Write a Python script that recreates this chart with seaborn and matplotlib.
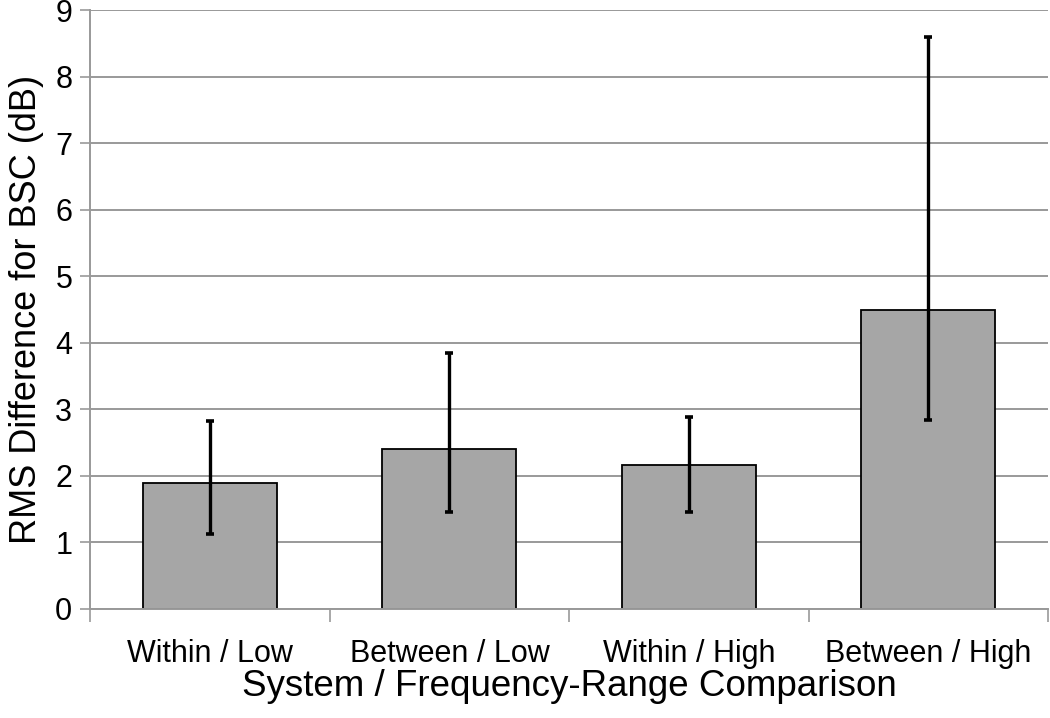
import matplotlib
matplotlib.use("Agg")
import matplotlib.pyplot as plt
import seaborn as sns
import pandas as pd
import numpy as np

# data
comparisons = ["Within / Low", "Between / Low", "Within / High", "Between / High"]
rms_diff = [1.89, 2.40, 2.16, 4.49]
err_low = [1.13, 1.46, 1.46, 2.84]
err_high = [2.82, 3.85, 2.88, 8.59]

sns.set_style("white")
plt.rcParams['font.family'] = ['Liberation Sans', 'DejaVu Sans']
plt.rcParams['text.color'] = 'black'
plt.rcParams['axes.labelcolor'] = 'black'
plt.rcParams['xtick.color'] = 'black'
plt.rcParams['ytick.color'] = 'black'

df = pd.DataFrame({"comparison": comparisons, "rms": rms_diff})

fig = plt.figure(figsize=(10.5, 7.18), dpi=100)
ax = fig.add_axes([0.086, 0.152, 0.912, 0.834])

sns.barplot(data=df, x="comparison", y="rms", color="#a6a6a6", saturation=1,
            width=0.56, edgecolor="black", linewidth=1.3, ax=ax, zorder=2)

# asymmetric error bars
vals = np.array(rms_diff)
yerr = [vals - np.array(err_low), np.array(err_high) - vals]
ax.errorbar(np.arange(len(comparisons)), vals, yerr=yerr, fmt="none",
            ecolor="black", elinewidth=2.4, capsize=2.8, capthick=2.6, zorder=3)

ax.set_xlim(-0.5, 3.5)
ax.set_ylim(0, 9)
ax.set_yticks(range(0, 10))
ax.yaxis.grid(True, color="#999999", linewidth=1.4, zorder=0)
ax.set_axisbelow(True)

for s in ["top", "right"]:
    ax.spines[s].set_visible(False)
for s in ["left", "bottom"]:
    ax.spines[s].set_color("#999999")
    ax.spines[s].set_linewidth(1.4)

# category boundary tick marks on x
ax.set_xticks(np.arange(-0.5, 4, 1), minor=True)
ax.tick_params(axis="x", which="minor", length=9, width=1.2, color="#999999", bottom=True)
ax.tick_params(axis="x", which="major", length=0, pad=22, labelsize=22, labelcolor="black")
ax.tick_params(axis="y", length=7, width=1.2, color="#999999", pad=6, labelsize=22,
               labelcolor="black", left=True)

ax.set_xlabel("System / Frequency-Range Comparison", fontsize=26.5, labelpad=0)
ax.set_ylabel("RMS Difference for BSC (dB)", fontsize=26, labelpad=8)

fig.savefig("out.png", dpi=100)
